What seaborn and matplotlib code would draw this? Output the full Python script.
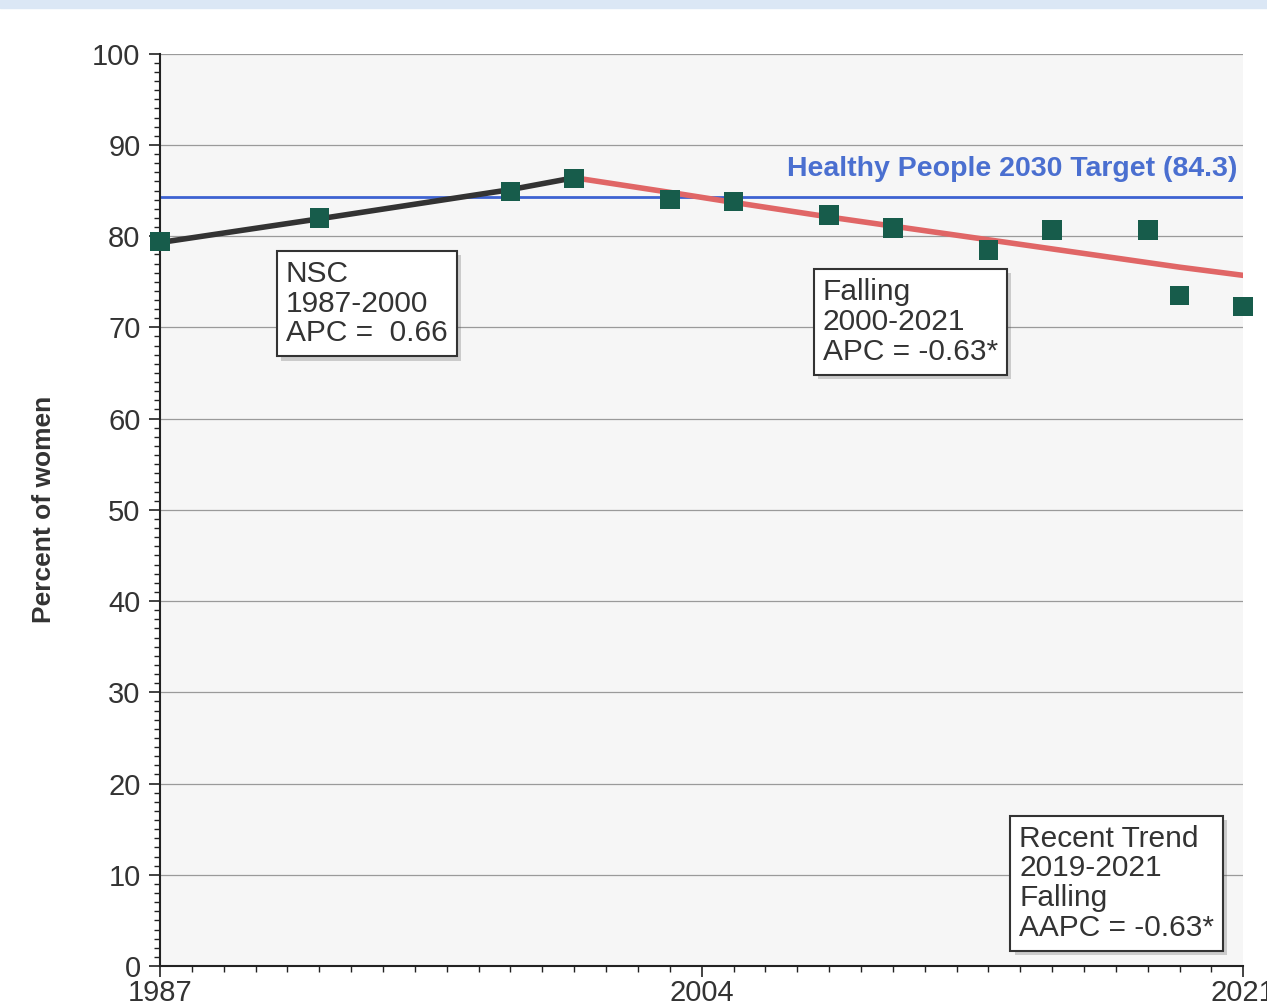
import matplotlib
matplotlib.use("Agg")
import matplotlib.pyplot as plt
import matplotlib.patches as patches
import matplotlib.patheffects as pe
from matplotlib.ticker import MultipleLocator
import seaborn as sns
import pandas as pd

sns.set_style("white")
plt.rcParams['font.family'] = ['Liberation Sans', 'DejaVu Sans']

# observed values
years = [1987, 1992, 1998, 2000, 2003, 2005, 2008, 2010, 2013, 2015, 2018, 2019, 2021]
observed = [79.4, 82.0, 84.9, 86.3, 84.0, 83.8, 82.3, 80.9, 78.5, 80.7, 80.7, 73.5, 72.3]

# fitted joinpoint segments
seg1_years = [1987, 1992, 1998, 2000]
seg1_fit = [79.3, 81.9, 85.1, 86.4]
seg2_years = [2000, 2003, 2005, 2008, 2010, 2013, 2015, 2018, 2019, 2021]
seg2_fit = [86.4, 84.8, 83.7, 82.1, 81.1, 79.6, 78.6, 77.1, 76.6, 75.7]

target = 84.3


def add_box(ax, x, y, txt):
    box = dict(boxstyle="square,pad=0.3", facecolor="white", edgecolor="#333333", linewidth=1.5)
    t = ax.text(x, y, txt, ha="left", va="top", fontsize=21.5, color="#333333",
                bbox=box, linespacing=1.08, zorder=6)
    t.get_bbox_patch().set_path_effects([pe.SimplePatchShadow(offset=(3, -3), alpha=0.25),
                                         pe.Normal()])


def plot():
    fig = plt.figure(figsize=(12.67, 10.07), dpi=100)
    # light blue band at the top
    fig.patches.append(patches.Rectangle((0, 0.992), 1, 0.008, transform=fig.transFigure,
                                         color="#dbe7f5", zorder=0))
    ax = fig.add_axes([0.1263, 0.0407, 0.855, 0.906])
    ax.set_facecolor("#f6f6f6")

    df_obs = pd.DataFrame({"Year": years, "Percent": observed})
    df1 = pd.DataFrame({"Year": seg1_years, "Percent": seg1_fit})
    df2 = pd.DataFrame({"Year": seg2_years, "Percent": seg2_fit})

    ax.axhline(target, color="#3d62d1", linewidth=2, zorder=2)
    sns.lineplot(data=df1, x="Year", y="Percent", ax=ax, color="#333333", linewidth=4, zorder=3)
    sns.lineplot(data=df2, x="Year", y="Percent", ax=ax, color="#e06666", linewidth=4, zorder=3)
    sns.scatterplot(data=df_obs, x="Year", y="Percent", ax=ax, marker="s", s=200,
                    color="#175c4b", edgecolor="none", zorder=4, clip_on=False)

    ax.set_xlim(1987, 2021)
    ax.set_ylim(0, 100)
    ax.set_xticks([1987, 2004, 2021])
    ax.xaxis.set_minor_locator(MultipleLocator(1))
    ax.set_yticks(range(0, 101, 10))
    ax.yaxis.set_minor_locator(MultipleLocator(1))
    ax.tick_params(axis="both", which="both", bottom=True, left=True, direction="out",
                   color="#222222")
    ax.tick_params(axis="both", which="major", length=8, width=1.2,
                   labelsize=21, labelcolor="#333333")
    ax.tick_params(axis="both", which="minor", length=4, width=1)
    ax.tick_params(axis="x", pad=1.5)
    ax.tick_params(axis="y", pad=6)
    ax.grid(axis="y", color="#9a9a9a", linewidth=0.9)
    ax.set_axisbelow(True)
    for side in ["top", "right"]:
        ax.spines[side].set_visible(False)
    for side in ["left", "bottom"]:
        ax.spines[side].set_color("#222222")
        ax.spines[side].set_linewidth(1.5)

    ax.set_xlabel("")
    ax.set_ylabel("Percent of women", fontsize=19, fontweight="bold", color="#333333", labelpad=26)

    ax.text(2020.8, 85.9, "Healthy People 2030 Target (84.3)", ha="right", va="bottom",
            fontsize=20.5, fontweight="bold", color="#4a6fd0", zorder=5)

    add_box(ax, 1990.95, 77.4, "NSC\n1987-2000\nAPC =  0.66")
    add_box(ax, 2007.8, 75.4, "Falling\n2000-2021\nAPC = -0.63*")
    add_box(ax, 2013.97, 15.5, "Recent Trend\n2019-2021\nFalling\nAAPC = -0.63*")

    fig.savefig("out.png", dpi=100)


if __name__ == "__main__":
    plot()
